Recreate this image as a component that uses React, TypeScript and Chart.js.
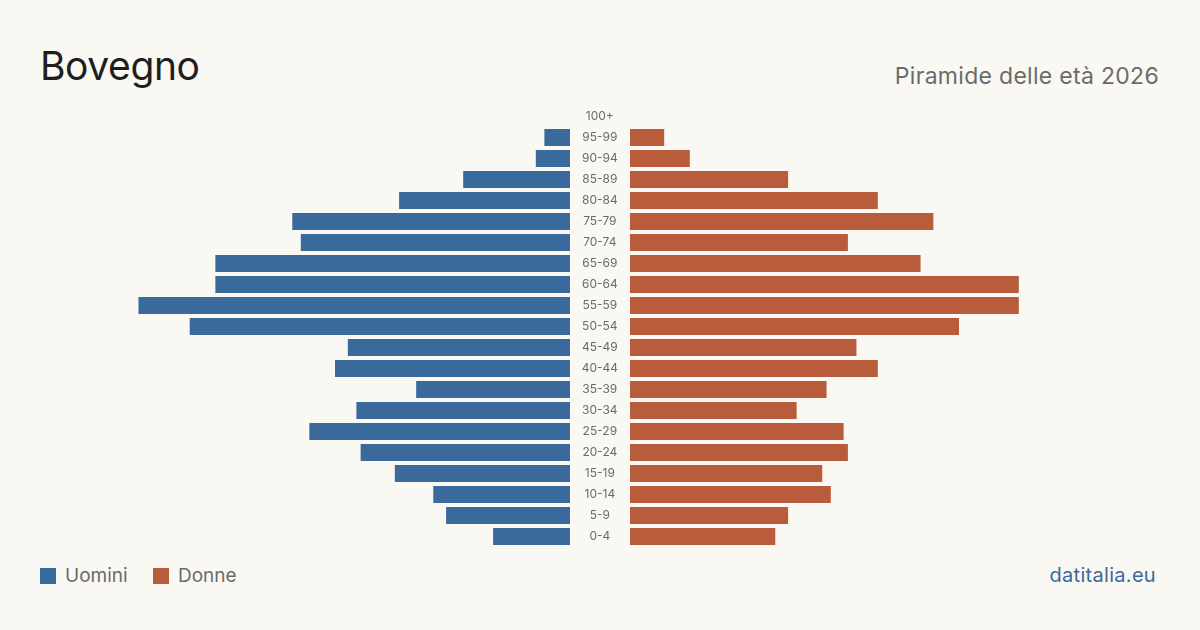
import React, { useEffect, useRef } from "react";
import { Chart, registerables } from "chart.js";

Chart.register(...registerables);

const ageGroups = ["100+", "95-99", "90-94", "85-89", "80-84", "75-79", "70-74", "65-69", "60-64", "55-59", "50-54", "45-49", "40-44", "35-39", "30-34", "25-29", "20-24", "15-19", "10-14", "5-9", "0-4"];
const men = [0, 6, 8, 25, 40, 65, 63, 83, 83, 101, 89, 52, 55, 36, 50, 61, 49, 41, 32, 29, 18];
const women = [0, 8, 14, 37, 58, 71, 51, 68, 91, 91, 77, 53, 58, 46, 39, 50, 51, 45, 47, 37, 34];
const axisMax = 110;

const BLUE = "#3a6a9b";
const ORANGE = "#b95c3c";
const BG = "#f9f8f3";
const FONT = "Inter, 'Liberation Sans', sans-serif";

export default function App() {
  const leftRef = useRef<HTMLCanvasElement>(null);
  const rightRef = useRef<HTMLCanvasElement>(null);

  useEffect(() => {
    const common: any = {
      indexAxis: "y",
      responsive: false,
      maintainAspectRatio: false,
      animation: false,
      layout: { padding: 0 },
      plugins: { legend: { display: false }, tooltip: { enabled: false } },
    };
    const left = new Chart(leftRef.current!, {
      type: "bar",
      data: {
        labels: ageGroups,
        datasets: [{ label: "Uomini", data: men, backgroundColor: BLUE, barPercentage: 17 / 21, categoryPercentage: 1 }],
      },
      options: {
        ...common,
        scales: {
          x: { display: false, reverse: true, min: 0, max: axisMax },
          y: { display: false },
        },
      },
    });
    const right = new Chart(rightRef.current!, {
      type: "bar",
      data: {
        labels: ageGroups,
        datasets: [{ label: "Donne", data: women, backgroundColor: ORANGE, barPercentage: 17 / 21, categoryPercentage: 1 }],
      },
      options: {
        ...common,
        scales: {
          x: { display: false, min: 0, max: axisMax },
          y: {
            display: true,
            grid: { display: false },
            border: { display: false },
            afterFit: (scale: any) => {
              scale.width = 60;
              scale.paddingTop = 0;
              scale.paddingBottom = 0;
            },
            ticks: {
              crossAlign: "center",
              padding: 4,
              color: "#6b6b6b",
              font: { family: FONT, size: 12 },
            },
          },
        },
      },
    });
    return () => {
      left.destroy();
      right.destroy();
    };
  }, []);

  return (
    <div style={{ position: "absolute", left: 0, top: 0, width: 1200, height: 630, background: BG, fontFamily: FONT, overflow: "hidden" }}>
      <div style={{ position: "absolute", left: 40, top: 46, fontSize: 39, lineHeight: "39px", color: "#1e1e1e", letterSpacing: -0.4 }}>Bovegno</div>
      <div style={{ position: "absolute", right: 41, top: 65, fontSize: 23, lineHeight: "23px", color: "#6b6b6b", letterSpacing: 0.3 }}>Piramide delle età 2026</div>
      <canvas ref={leftRef} width={470} height={441} style={{ position: "absolute", left: 100, top: 106 }} />
      <canvas ref={rightRef} width={530} height={441} style={{ position: "absolute", left: 570, top: 106 }} />
      <div style={{ position: "absolute", left: 40, top: 568, width: 16, height: 16, background: BLUE }} />
      <div style={{ position: "absolute", left: 65, top: 566, fontSize: 19, lineHeight: "19px", color: "#6b6b6b" }}>Uomini</div>
      <div style={{ position: "absolute", left: 153, top: 568, width: 16, height: 16, background: ORANGE }} />
      <div style={{ position: "absolute", left: 178, top: 566, fontSize: 19, lineHeight: "19px", color: "#6b6b6b" }}>Donne</div>
      <div style={{ position: "absolute", right: 44, top: 565, fontSize: 20, lineHeight: "20px", color: BLUE, letterSpacing: 0.3 }}>datitalia.eu</div>
    </div>
  );
}
